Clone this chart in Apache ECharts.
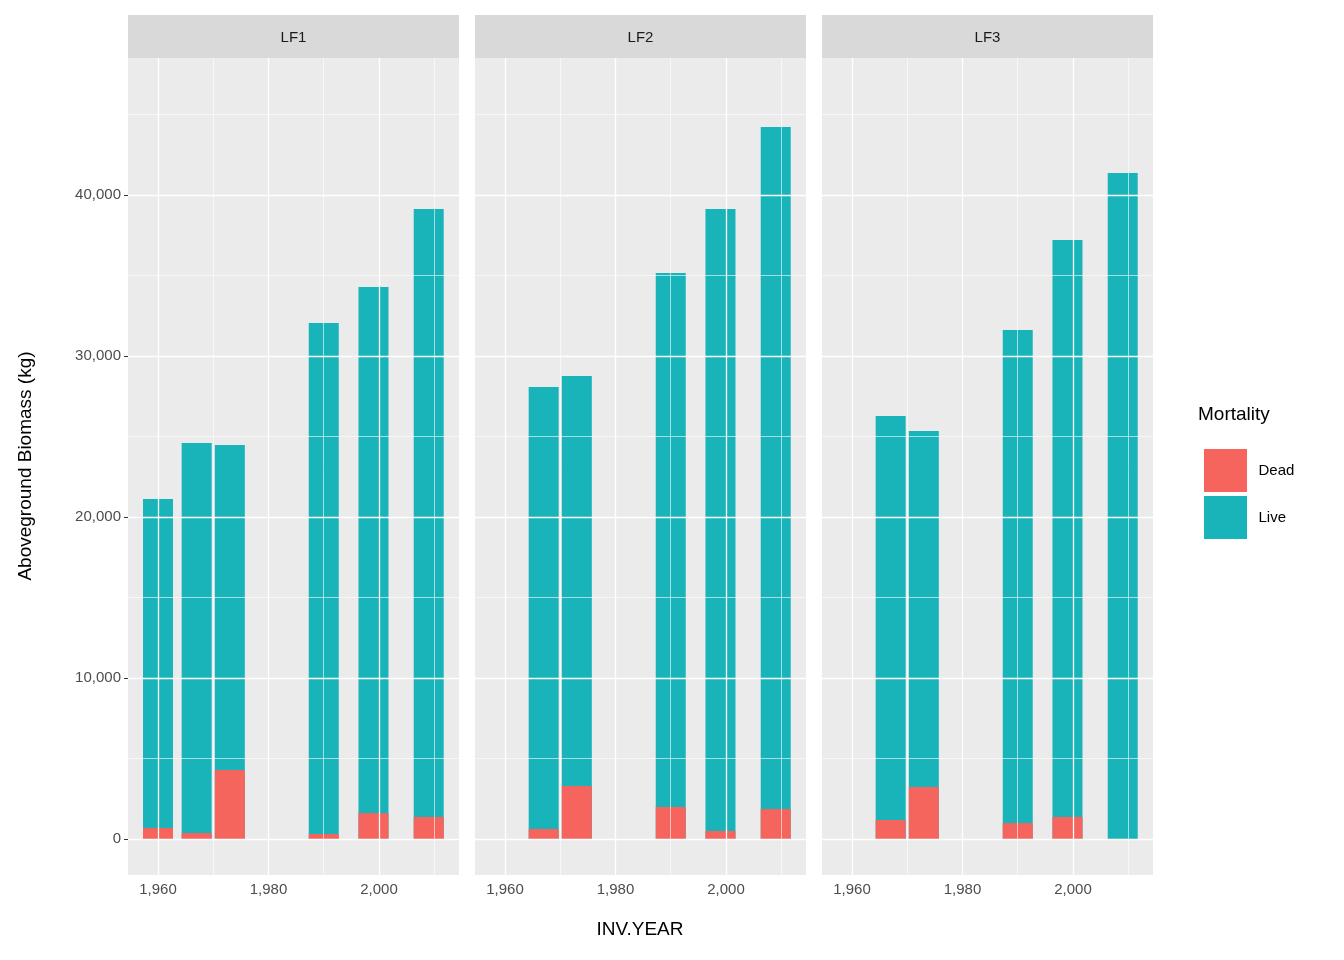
<!DOCTYPE html>
<html><head><meta charset="utf-8">
<script src="https://cdn.jsdelivr.net/npm/echarts@6/dist/echarts.min.js"></script>
<style>html,body{margin:0;background:#fff}#c{width:1344px;height:960px}</style>
</head><body><div id="c"></div>
<script>
const panels = ['LF1','LF2','LF3'];
const years = [
  [1960,1967,1973,1990,1999,2009],
  [1967,1973,1990,1999,2009],
  [1967,1973,1990,1999,2009]
];
const live = [
  [21120,24600,24470,32050,34290,39130],
  [28080,28760,35160,39130,44220],
  [26270,25340,31620,37200,41370]
];
const dead = [
  [680,370,4290,310,1610,1370],
  [620,3290,1990,500,1860],
  [1180,3230,990,1370,0]
];
const xTicks = [1960,1980,2000];
const xMinor = [1970,1990,2010];
const yTicks = [0,10000,20000,30000,40000];
const yMinor = [5000,15000,25000,35000,45000];

const lefts = [128,475,822], W = 331, TOP = 58, H = 817;
const XMIN = 1954.57, XMAX = 2014.48, YMIN = -2236, YMAX = 48509;
const grids=[], xAxes=[], yAxes=[], series=[], graphic=[];
panels.forEach((p,i)=>{
  grids.push({left:lefts[i],top:TOP,width:W,height:H,show:true,backgroundColor:'#EBEBEB',borderWidth:0});
  xAxes.push({type:'value',gridIndex:i,min:XMIN,max:XMAX,splitLine:{show:false},
    axisLine:{show:false},axisTick:{show:true,length:4,lineStyle:{color:'#333'},customValues:xTicks},
    axisLabel:{customValues:xTicks,color:'#4D4D4D',fontSize:15,fontFamily:'Liberation Sans',margin:7}});
  yAxes.push({type:'value',gridIndex:i,min:YMIN,max:YMAX,splitLine:{show:false},
    axisLine:{show:false},axisTick:{show:i===0,length:4,lineStyle:{color:'#333'},customValues:yTicks},
    axisLabel:{show:i===0,customValues:yTicks,color:'#4D4D4D',fontSize:15,fontFamily:'Liberation Sans',margin:7}});
  const ml = [];
  xMinor.forEach(v=>ml.push({xAxis:v,lineStyle:{width:0.6}}));
  yMinor.forEach(v=>ml.push({yAxis:v,lineStyle:{width:0.6}}));
  xTicks.forEach(v=>ml.push({xAxis:v,lineStyle:{width:1.3}}));
  yTicks.forEach(v=>ml.push({yAxis:v,lineStyle:{width:1.3}}));
  series.push({type:'line',xAxisIndex:i,yAxisIndex:i,data:[],z:1,silent:true,
    markLine:{silent:true,symbol:'none',label:{show:false},lineStyle:{color:'#fff',type:'solid'},data:ml,animation:false}});
  series.push({name:'Live',type:'bar',stack:'s'+i,xAxisIndex:i,yAxisIndex:i,barWidth:30,z:3,
    itemStyle:{color:'#19B4B9'},data:years[i].map((y,k)=>[y,live[i][k]])});
  series.push({name:'Dead',type:'bar',stack:'s'+i,xAxisIndex:i,yAxisIndex:i,barWidth:30,z:3,
    itemStyle:{color:'#F5645D'},data:years[i].map((y,k)=>[y,dead[i][k]])});
  graphic.push({type:'rect',shape:{x:lefts[i],y:15,width:W,height:43},style:{fill:'#D9D9D9'}});
  graphic.push({type:'text',x:lefts[i]+W/2,y:38,style:{text:p,fill:'#1A1A1A',fontSize:15,fontFamily:'Liberation Sans',align:'center',verticalAlign:'middle'}});
});
graphic.push({type:'text',x:640,y:930,style:{text:'INV.YEAR',fill:'#000',fontSize:19,fontFamily:'Liberation Sans',align:'center',verticalAlign:'middle'}});
graphic.push({type:'text',x:26,y:466,rotation:Math.PI/2,style:{text:'Aboveground Biomass (kg)',fill:'#000',fontSize:19,fontFamily:'Liberation Sans',align:'center',verticalAlign:'middle'}});
graphic.push({type:'text',x:1198,y:415,style:{text:'Mortality',fill:'#000',fontSize:19,fontFamily:'Liberation Sans',verticalAlign:'middle'}});

const chart = echarts.init(document.getElementById('c'));
chart.setOption({
  animation:false,
  grid:grids,xAxis:xAxes,yAxis:yAxes,series:series,graphic:graphic,
  legend:{data:['Dead','Live'],orient:'vertical',left:1198,top:443,itemWidth:44,itemHeight:44,itemGap:2,icon:'rect',
    itemStyle:{borderColor:'#fff',borderWidth:1},
    textStyle:{fontSize:15,fontFamily:'Liberation Sans',color:'#000',padding:[0,0,0,6]}}
});
</script></body></html>
